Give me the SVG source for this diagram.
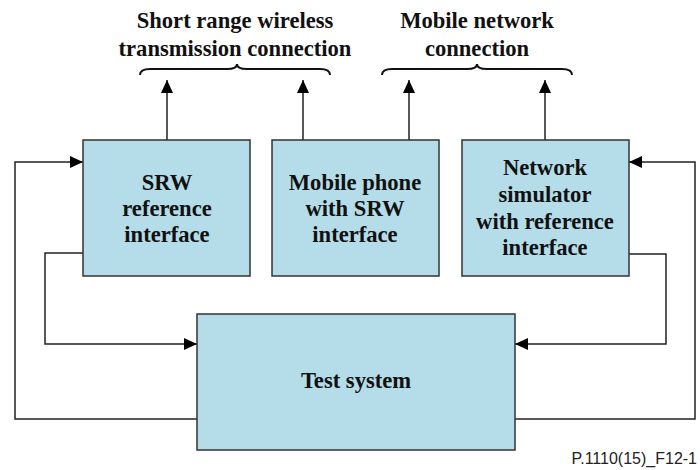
<svg xmlns="http://www.w3.org/2000/svg" width="700" height="470" viewBox="0 0 700 470">
<style>
.box{fill:#b4dde9;stroke:#333;stroke-width:1.5}
.t{font-family:"Liberation Serif","Times New Roman",serif;font-weight:bold;font-size:22.6px;fill:#111;text-anchor:middle}
.ln{fill:none;stroke:#222;stroke-width:1.5}
.br{fill:none;stroke:#111;stroke-width:2}
.ft{font-family:"Liberation Sans",Arial,sans-serif;font-size:16px;fill:#222;text-anchor:end}
</style>
<defs>
<marker id="ah" markerWidth="13" markerHeight="12" refX="13" refY="6" orient="auto" markerUnits="userSpaceOnUse">
<path d="M0,0 L13,6 L0,12 Z" fill="#000"/>
</marker>
</defs>
<rect width="700" height="470" fill="#fff"/>
<g id="labels">
<text class="t" x="235" y="28">Short range wireless</text>
<text class="t" x="235" y="56">transmission connection</text>
<text class="t" x="477" y="28">Mobile network</text>
<text class="t" x="477" y="56">connection</text>
<path class="br" d="M140,75 Q140,69 150,69 L227,69 Q237,69 237,64 Q237,69 247,69 L320,69 Q330,69 330,75"/>
<path class="br" d="M382,75 Q382,69 392,69 L467,69 Q477,69 477,64 Q477,69 487,69 L562,69 Q572,69 572,75"/>
</g>
<g id="connectors">
<line class="ln" x1="167" y1="140" x2="167" y2="80" marker-end="url(#ah)"/>
<line class="ln" x1="303" y1="140" x2="303" y2="80" marker-end="url(#ah)"/>
<line class="ln" x1="409" y1="140" x2="409" y2="80" marker-end="url(#ah)"/>
<line class="ln" x1="545" y1="140" x2="545" y2="80" marker-end="url(#ah)"/>
<polyline class="ln" points="197,419 15,419 15,162 83,162" marker-end="url(#ah)"/>
<polyline class="ln" points="83,253 45,253 45,344 197,344" marker-end="url(#ah)"/>
<polyline class="ln" points="629,254 666,254 666,344 515,344" marker-end="url(#ah)"/>
<polyline class="ln" points="515,419 695,419 695,162 629,162" marker-end="url(#ah)"/>
</g>
<g id="srw">
<rect class="box" x="83" y="140" width="167" height="136"/>
<text class="t" x="167" y="190">SRW</text>
<text class="t" x="167" y="216">reference</text>
<text class="t" x="167" y="242">interface</text>
</g>
<g id="phone">
<rect class="box" x="272" y="140" width="167" height="136"/>
<text class="t" x="355" y="190">Mobile phone</text>
<text class="t" x="355" y="216">with SRW</text>
<text class="t" x="355" y="242">interface</text>
</g>
<g id="netsim">
<rect class="box" x="462" y="140" width="167" height="136"/>
<text class="t" x="545" y="175">Network</text>
<text class="t" x="545" y="202">simulator</text>
<text class="t" x="545" y="229">with reference</text>
<text class="t" x="545" y="255">interface</text>
</g>
<g id="test">
<rect class="box" x="197" y="314" width="318" height="136"/>
<text class="t" x="356" y="388">Test system</text>
</g>
<text class="ft" x="697" y="464">P.1110(15)_F12-1</text>
</svg>
